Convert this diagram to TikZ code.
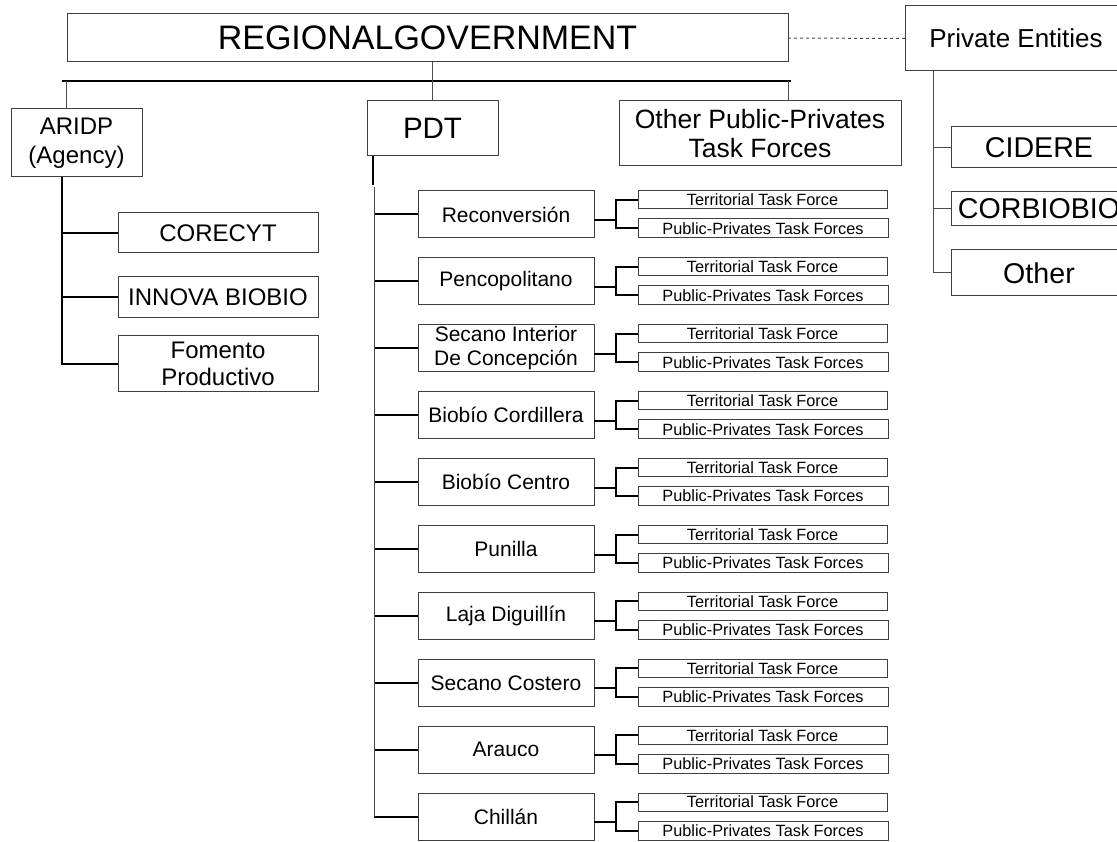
\documentclass[tikz,border=0pt]{standalone}
\usepackage{fontspec}
\setmainfont{Liberation Sans}
\usetikzlibrary{calc}

\begin{document}
\begin{tikzpicture}[x=1pt, y=-1pt, line width=1pt,
  box/.style={draw=black!75, inner sep=0pt, outer sep=0pt, align=center},
  rowbox/.style={box, minimum width=176pt, minimum height=47pt, font=\fontsize{21}{24}\selectfont},
  subbox/.style={box, minimum width=249pt, minimum height=18pt, font=\fontsize{16.3}{18}\selectfont},
  link/.style={line width=2pt},
  thinlink/.style={draw=black!70, line width=1pt}]

\useasboundingbox (0,0) rectangle (1117,842);
\fill[white] (0,0) rectangle (1117,842);
\clip (0,0) rectangle (1117,842);

% top level
\node[box, minimum width=721pt, minimum height=48pt, font=\fontsize{34}{40}\selectfont] (rg) at (427.5,38) {REGIONALGOVERNMENT};
\node[box, minimum width=222pt, minimum height=65pt, font=\fontsize{26}{31}\selectfont] (priv) at (1016,38.5) {Private Entities};
\draw[thinlink, dashed] (rg.east) -- (priv.west);

\coordinate (busl) at (62,81);
\coordinate (busr) at (791,81);
\draw[link] (busl) -- (busr);

% second level
\node[box, minimum width=131pt, minimum height=68pt, font=\fontsize{24}{29}\selectfont] (aridp) at (76.5,143) {ARIDP\\(Agency)};
\node[box, minimum width=131pt, minimum height=55pt, font=\fontsize{29.5}{34}\selectfont] (pdt) at (432.5,128.5) {PDT};
\node[box, minimum width=282pt, minimum height=65pt, font=\fontsize{26.5}{29.5}\selectfont] (other) at (760,133.5) {Other Public-Privates\\Task Forces};

\coordinate (aridpup) at ([xshift=55pt]aridp.north west);
\coordinate (otherup) at ([xshift=169pt]other.north west);
\draw[thinlink] (aridpup) -- (aridpup |- busl);
\draw[thinlink] (rg.south -| pdt.north) -- (pdt.north);
\draw[thinlink] (otherup) -- (otherup |- busl);

% agency
\node[box, minimum width=200pt, minimum height=40pt, font=\fontsize{24}{29}\selectfont] (corecyt) at (218,233) {CORECYT};
\node[box, minimum width=200pt, minimum height=41pt, font=\fontsize{24}{29}\selectfont] (innova) at (218,297.5) {INNOVA BIOBIO};
\node[box, minimum width=200pt, minimum height=56pt, font=\fontsize{24}{27}\selectfont] (fomento) at (218,364) {Fomento\\Productivo};

\coordinate (aridpdown) at ([xshift=51pt]aridp.south west);
\draw[link] (aridpdown) |- (fomento.west);
\draw[link] (aridpdown |- corecyt.west) -- (corecyt.west);
\draw[link] (aridpdown |- innova.west) -- (innova.west);

% private entities
\node[box, minimum width=176pt, minimum height=41pt, font=\fontsize{28.6}{33}\selectfont] (cidere) at (1039,147.5) {CIDERE};
\node[box, minimum width=176pt, minimum height=34pt, font=\fontsize{28.6}{33}\selectfont] (corbio) at (1039,209) {CORBIOBIO};
\node[box, minimum width=176pt, minimum height=46pt, font=\fontsize{28.6}{33}\selectfont] (otherp) at (1039,273) {Other};

\coordinate (privdown) at ([xshift=28pt]priv.south west);
\draw[thinlink] (privdown) |- (otherp.west);
\draw[thinlink] (privdown |- cidere.west) -- (cidere.west);
\draw[thinlink] (privdown |- corbio.west) -- (corbio.west);

% territories
\coordinate (pdtend) at (373,185);
\coordinate (maintop) at (374,187);
\draw[link] (pdt.south -| pdtend) -- (pdtend);

\foreach \name [count=\i] in {Reconversión, Pencopolitano, {Secano Interior\\De Concepción}, Biobío Cordillera, Biobío Centro, Punilla, Laja Diguillín, Secano Costero, Arauco, Chillán} {
  \pgfmathsetmacro\rowy{191+66.9*(\i-1)}
  \node[rowbox] (r\i) at (506,\rowy+23.5) {\name};
  \node[subbox] (t\i) at (762.5,\rowy+9) {Territorial Task Force};
  \node[subbox, minimum width=250pt, minimum height=19pt] (p\i) at (763,\rowy+37.5) {Public-Privates Task Forces};
  \coordinate (f\i) at (616,\rowy+29);
  \draw[link] (maintop |- r\i.west) -- (r\i.west);
  \draw[link] (r\i.east |- f\i) -- (f\i);
  \draw[link] (t\i.west) -| (f\i) |- (p\i.west);
}
\draw[thinlink] (maintop) -- (maintop |- r10.west);

\end{tikzpicture}
\end{document}
